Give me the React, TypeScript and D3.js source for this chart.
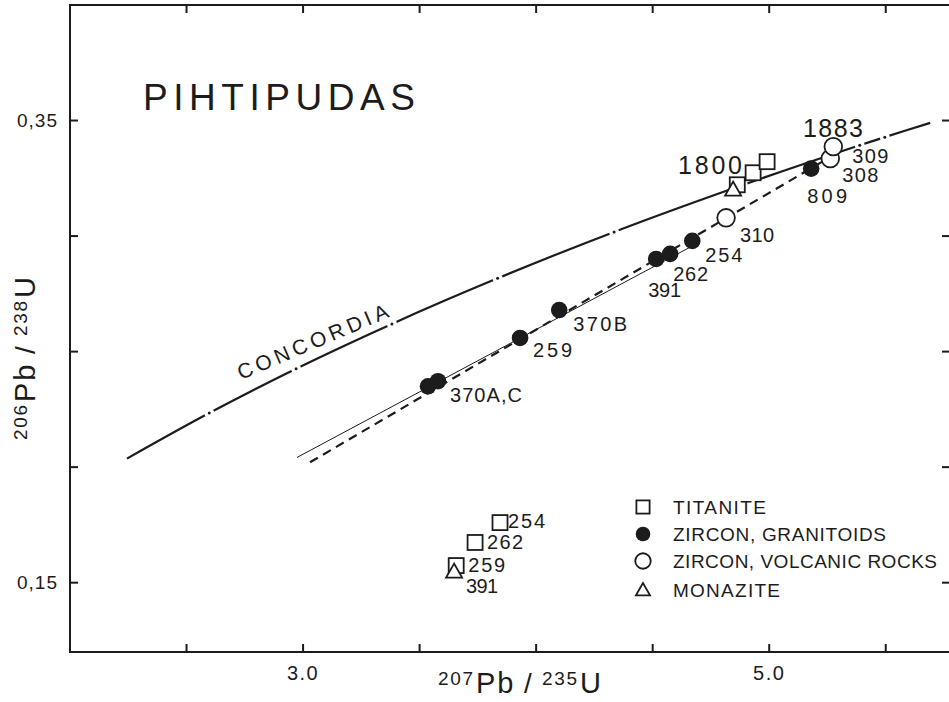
import React from "react";
import * as d3 from "d3";

// concordia (ages in Ma)
const concordiaAge = [1195, 1300, 1400, 1500, 1600, 1700, 1800, 1883, 1900, 1930];
const concordiaPb207U235 = [2.2443, 2.5974, 2.97, 3.3812, 3.8346, 4.3347, 4.8866, 5.3883, 5.496, 5.6909];
const concordiaPb206U238 = [0.2037, 0.2234, 0.2426, 0.262, 0.2817, 0.3018, 0.3221, 0.3393, 0.3428, 0.349];
const concordiaMarkAges = [1300, 1400, 1500, 1600, 1700, 1800, 1883, 1900];

// samples
const titaniteLabels = ["", "", "", "254", "262", "259"];
const titaniteX = [4.863, 4.931, 4.991, 3.845, 3.738, 3.657];
const titaniteY = [0.3222, 0.3274, 0.3322, 0.176, 0.1674, 0.1574];

const granitoidLabels = ["", "370A,C", "259", "370B", "391", "262", "254", "809"];
const granitoidX = [3.536, 3.579, 3.931, 4.099, 4.515, 4.575, 4.67, 5.18];
const granitoidY = [0.235, 0.2372, 0.2559, 0.268, 0.2901, 0.2923, 0.2979, 0.3292];

const volcanicLabels = ["310", "308", "309"];
const volcanicX = [4.815, 5.262, 5.275];
const volcanicY = [0.3079, 0.3335, 0.3387];

const monaziteLabels = ["", "391"];
const monaziteX = [4.845, 3.648];
const monaziteY = [0.3201, 0.1548];

// discordia lines
const thinDiscordiaX = [2.974, 4.67];
const thinDiscordiaY = [0.2042, 0.2957];
const dashedDiscordiaX = [3.03, 5.25];
const dashedDiscordiaY = [0.2021, 0.3335];

const xTicks = [2.5, 3.0, 3.5, 4.0, 4.5, 5.0, 5.5];
const xTickLabels: Record<string, string> = { "3": "3.0", "5": "5.0" };
const yTicks = [0.15, 0.2, 0.25, 0.3, 0.35];
const yTickLabels: Record<string, string> = { "0.35": "0,35", "0.15": "0,15" };

const legendNames = ["TITANITE", "ZIRCON, GRANITOIDS", "ZIRCON, VOLCANIC ROCKS", "MONAZITE"];
const legendKinds = ["square", "filled", "circle", "triangle"];

const FONT = "'Liberation Sans', Arial, sans-serif";
const INK = "#1c1c1c";

// label offsets (px) from the point, and label width
const nudge: Record<string, [number, number, number]> = {
  "g-370A,C": [12, 21, 72],
  "g-259": [13, 19, 39],
  "g-370B": [14, 21, 54],
  "g-391": [-8, 38, 33],
  "g-262": [3, 27, 35],
  "g-254": [13, 21, 37],
  "g-809": [-4, 34, 40],
  "v-310": [14, 24, 34],
  "v-308": [12, 23, 36],
  "v-309": [19, 16, 36],
  "t-254": [8, 5, 37],
  "t-262": [12, 7, 36],
  "t-259": [12, 6, 37],
  "m-391": [12, 21, 32],
};

function Marker({ kind, cx, cy, size = 1 }: { kind: string; cx: number; cy: number; size?: number }) {
  if (kind === "square") {
    const s = 15 * size;
    return <rect x={cx - s / 2} y={cy - s / 2} width={s} height={s} fill="#fff" stroke={INK} strokeWidth={1.8} />;
  }
  if (kind === "filled") {
    return <circle cx={cx} cy={cy} r={8.3 * size} fill={INK} />;
  }
  if (kind === "circle") {
    return <circle cx={cx} cy={cy} r={8.8 * size} fill="#fff" stroke={INK} strokeWidth={1.8} />;
  }
  const h = 8 * size;
  return (
    <polygon
      points={`${cx},${cy - h} ${cx - h},${cy + h * 0.75} ${cx + h},${cy + h * 0.75}`}
      fill="#fff"
      stroke={INK}
      strokeWidth={1.8}
    />
  );
}

// "207Pb / 235U" style ratio title, laid out along a baseline
function RatioTitle({ a, b, transform }: { a: string; b: string; transform: string }) {
  return (
    <g transform={transform} fill={INK}>
      <text x={0} y={-8} fontSize={19} textLength={35} lengthAdjust="spacing">{a}</text>
      <text x={38} y={0} fontSize={29} letterSpacing={2}>Pb</text>
      <text x={86} y={0} fontSize={28}>/</text>
      <text x={104} y={-8} fontSize={19} textLength={35} lengthAdjust="spacing">{b}</text>
      <text x={142} y={0} fontSize={29}>U</text>
    </g>
  );
}

export default function App() {
  const x = d3.scaleLinear().domain([2.0, 5.78]).range([70, 951]);
  const y = d3.scaleLinear().domain([0.12, 0.4]).range([652, 5]);

  const straight = d3
    .line<[number, number]>()
    .x((d) => x(d[0]))
    .y((d) => y(d[1]));
  const curved = d3
    .line<[number, number]>()
    .x((d) => x(d[0]))
    .y((d) => y(d[1]))
    .curve(d3.curveCatmullRom.alpha(0.5));

  const concordia = concordiaAge.map((_, i) => [concordiaPb207U235[i], concordiaPb206U238[i]] as [number, number]);
  const concordiaPath = curved(concordia) || "";
  const thinPath = straight(thinDiscordiaX.map((v, i) => [v, thinDiscordiaY[i]] as [number, number])) || "";
  const dashedPath = straight(dashedDiscordiaX.map((v, i) => [v, dashedDiscordiaY[i]] as [number, number])) || "";

  const marks = concordiaMarkAges.map((a) => {
    const i = concordiaAge.indexOf(a);
    return { a, px: x(concordiaPb207U235[i]), py: y(concordiaPb206U238[i]) };
  });

  const left = x(2.0);
  const right = x(5.78);
  const top = y(0.4);
  const bottom = y(0.12);

  const series = [
    { key: "t", kind: "square", xs: titaniteX, ys: titaniteY, labels: titaniteLabels },
    { key: "g", kind: "filled", xs: granitoidX, ys: granitoidY, labels: granitoidLabels },
    { key: "v", kind: "circle", xs: volcanicX, ys: volcanicY, labels: volcanicLabels },
    { key: "m", kind: "triangle", xs: monaziteX, ys: monaziteY, labels: monaziteLabels },
  ];

  const legendX = 643;
  const legendRows = [507, 534, 561, 590];
  const legendLens = [93, 213, 264, 107];

  return (
    <svg
      width={949}
      height={702}
      style={{ position: "absolute", left: 0, top: 0, background: "#fff" }}
      fontFamily={FONT}
    >
      {/* frame */}
      <rect x={left} y={top} width={right - left} height={bottom - top} fill="none" stroke={INK} strokeWidth={2} />
      {xTicks.map((t) => (
        <g key={"xt" + t}>
          <line x1={x(t)} x2={x(t)} y1={bottom} y2={bottom - 8} stroke={INK} strokeWidth={2} />
          <line x1={x(t)} x2={x(t)} y1={top} y2={top + 8} stroke={INK} strokeWidth={2} />
          {xTickLabels[String(t)] && (
            <text x={x(t)} y={680} textAnchor="middle" fontSize={20} fill={INK} letterSpacing={1.5}>
              {xTickLabels[String(t)]}
            </text>
          )}
        </g>
      ))}
      {yTicks.map((t) => (
        <g key={"yt" + t}>
          <line x1={left} x2={left + 8} y1={y(t)} y2={y(t)} stroke={INK} strokeWidth={2} />
          <line x1={right} x2={right - 9} y1={y(t)} y2={y(t)} stroke={INK} strokeWidth={2} />
          {yTickLabels[String(t)] && (
            <text x={58} y={y(t) + 6} textAnchor="end" fontSize={19} fill={INK} letterSpacing={1}>
              {yTickLabels[String(t)]}
            </text>
          )}
        </g>
      ))}

      {/* axis titles */}
      <RatioTitle a="207" b="235" transform="translate(438,693)" />
      <RatioTitle a="206" b="238" transform="translate(35,440) rotate(-90)" />

      {/* title */}
      <text x={143} y={110} fontSize={37} fill={INK} textLength={272} lengthAdjust="spacing">
        PIHTIPUDAS
      </text>

      {/* concordia */}
      <path d={concordiaPath} fill="none" stroke={INK} strokeWidth={2.2} />
      {marks.map((m) => (
        <g key={"m" + m.a}>
          <circle cx={m.px} cy={m.py} r={5} fill="#fff" />
          <circle cx={m.px} cy={m.py} r={1.5} fill={INK} />
        </g>
      ))}
      <text
        transform="translate(241,380) rotate(-23)"
        fontSize={21}
        fill={INK}
        textLength={162}
        lengthAdjust="spacing"
      >
        CONCORDIA
      </text>

      {/* discordias */}
      <path d={thinPath} fill="none" stroke={INK} strokeWidth={1} />
      <path d={dashedPath} fill="none" stroke={INK} strokeWidth={2.2} strokeDasharray="9 6" />

      {/* data points */}
      {series.map((s) =>
        s.xs.map((v, i) => <Marker key={s.key + i} kind={s.kind} cx={x(v)} cy={y(s.ys[i])} />)
      )}
      {series.map((s) =>
        s.labels.map((lab, i) => {
          if (!lab) return null;
          const n = nudge[s.key + "-" + lab];
          return (
            <text
              key={"l" + s.key + i}
              x={x(s.xs[i]) + n[0]}
              y={y(s.ys[i]) + n[1]}
              fontSize={20}
              fill={INK}
              textLength={n[2]}
              lengthAdjust="spacing"
            >
              {lab}
            </text>
          );
        })
      )}

      {/* age labels on concordia */}
      <text x={678} y={174} fontSize={25} fill={INK} textLength={64} lengthAdjust="spacing">
        1800
      </text>
      <text x={803} y={137} fontSize={25} fill={INK} textLength={60} lengthAdjust="spacing">
        1883
      </text>

      {/* legend */}
      {legendNames.map((name, i) => (
        <g key={name}>
          <Marker kind={legendKinds[i]} cx={legendX} cy={legendRows[i]} size={0.88} />
          <text
            x={673}
            y={legendRows[i] + 7}
            fontSize={19}
            fill={INK}
            textLength={legendLens[i]}
            lengthAdjust="spacing"
          >
            {name}
          </text>
        </g>
      ))}
    </svg>
  );
}
